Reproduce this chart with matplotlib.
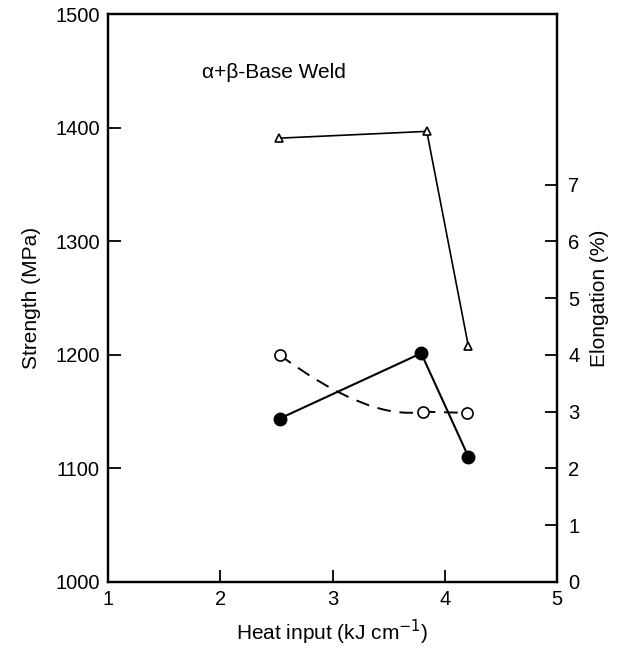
import numpy as np
import matplotlib
matplotlib.use('Agg')
import matplotlib.pyplot as plt
from matplotlib.path import Path
from matplotlib.patches import PathPatch

plt.rcParams['font.family'] = ['Liberation Sans', 'DejaVu Sans']

heat_uts = [2.52, 3.84, 4.21]
uts = [1391, 1397, 1208]          # triangles, strength axis

heat_ys = [2.53, 3.81, 4.20]
ys = [1200, 1150, 1149]           # open circles, strength axis (dashed)

heat_el = [2.53, 3.79, 4.21]
elong = [2.88, 4.03, 2.21]        # filled circles, elongation axis

x_ticks = [1, 2, 3, 4, 5]
strength_ticks = [1000, 1100, 1200, 1300, 1400, 1500]
elong_ticks = [0, 1, 2, 3, 4, 5, 6, 7]

fig = plt.figure(figsize=(6.25, 6.52), dpi=100)
ax = fig.add_axes([0.1728, 0.1074, 0.7184, 0.8704])
ax2 = ax.twinx()

fs = 14.5
lw_spine = 1.6

# Strength axis
ax.set_xlim(1, 5)
ax.set_ylim(1000, 1500)
ax.set_xticks(x_ticks)
ax.set_yticks(strength_ticks)
ax.tick_params(direction='in', length=9, width=1.3, labelsize=fs, pad=6)
ax.tick_params(axis='x', pad=6)
ax.set_xlabel('Heat input (kJ cm$^{-1}$)', fontsize=fs + 0.5, labelpad=6)
ax.set_ylabel('Strength (MPa)', fontsize=fs + 0.5, labelpad=10)

# Elongation axis, 0-10 matching 1000-1500
ax2.set_ylim(0, 10)
ax2.set_yticks(elong_ticks)
ax2.tick_params(direction='in', length=9, width=1.3, labelsize=fs, pad=8)
ax2.set_ylabel('Elongation (%)', fontsize=fs + 0.5, labelpad=8)

for a in (ax, ax2):
    for s in a.spines.values():
        s.set_linewidth(lw_spine)

# Triangles (UTS)
ax.plot(heat_uts, uts, color='black', lw=1.2, marker='^', markersize=6,
        markerfacecolor='white', markeredgewidth=1.2, zorder=3)

# Open circles with a smooth dashed curve
p0 = (heat_ys[0], ys[0])
p1 = (heat_ys[1], ys[1])
ctrl = ((heat_ys[0] + heat_ys[1]) / 2 + 0.15, ys[1] - 8)
curve = Path([p0, ctrl, p1, (heat_ys[2], ys[2])],
             [Path.MOVETO, Path.CURVE3, Path.CURVE3, Path.LINETO])
ax.add_patch(PathPatch(curve, facecolor='none', edgecolor='black', lw=1.4,
                       linestyle=(0, (7, 4.5)), zorder=2))
ax.plot(heat_ys, ys, linestyle='none', marker='o', markersize=8,
        markerfacecolor='white', markeredgecolor='black',
        markeredgewidth=1.2, zorder=4)

# Filled circles (elongation)
ax2.plot(heat_el, elong, color='black', lw=1.5, marker='o', markersize=9,
         markerfacecolor='black', solid_joinstyle='round', zorder=3)

ax.text(0.21, 0.888, 'α+β-Base Weld', transform=ax.transAxes,
        fontsize=fs + 0.5, ha='left', va='baseline')

fig.savefig('out.png', dpi=100)
